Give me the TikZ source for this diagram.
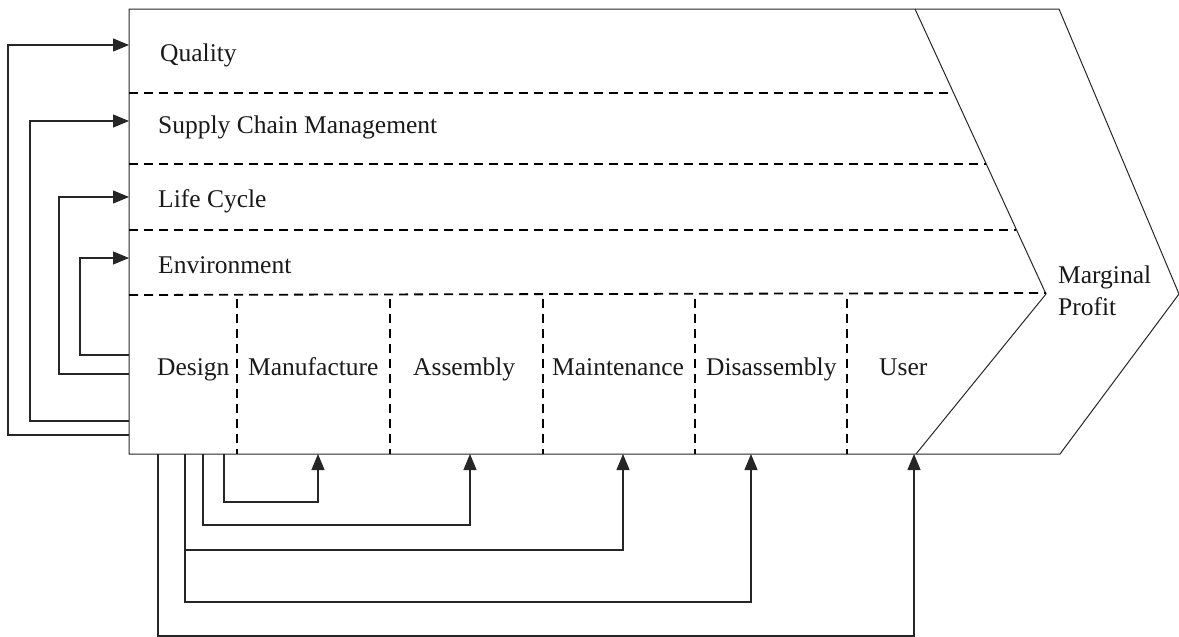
\documentclass[tikz,border=0pt]{standalone}
\usepackage{fontspec}
\setmainfont{Liberation Serif}
\usetikzlibrary{arrows.meta}
\begin{document}
\begin{tikzpicture}[x=1pt,y=-1pt,
  outline/.style={draw=black!85, line width=1pt},
  divider/.style={draw=black, line width=1.8pt, dash pattern=on 9pt off 6pt},
  link/.style={draw=black!85, line width=1.1pt, -{Triangle[length=16pt,width=13pt]}},
  lbl/.style={anchor=base west, inner sep=0pt, font=\fontsize{25.5}{30}\selectfont, text=black!90}]
\useasboundingbox (0,0) rectangle (1179,637);

% value-chain arrow: outer body and inner chevron
\draw[outline] (129,9) -- (1059,9) -- (1179,294) -- (1060,454) -- (129,454) -- cycle;
\draw[outline] (915,9) -- (1046,294) -- (916,454);

% row dividers
\draw[divider] (129,93) -- (953,93);
\draw[divider] (129,164) -- (986,164);
\draw[divider] (129,230) -- (1016,230);
\draw[divider] (129,295) -- (1046,293);

% column dividers
\foreach \x in {237,390,543,695,847}
  \draw[divider] (\x,299) -- (\x,454);

% labels
\node[lbl] (quality) at (160,61) {Quality};
\node[lbl] (scm) at (158,133) {Supply Chain Management};
\node[lbl] (life) at (158,207) {Life Cycle};
\node[lbl] (env) at (158,273) {Environment};
\node[lbl] (design) at (157,375) {Design};
\node[lbl] (manu) at (248,375) {Manufacture};
\node[lbl] (assy) at (413,375) {Assembly};
\node[lbl] (maint) at (552,375) {Maintenance};
\node[lbl] (disassy) at (706,375) {Disassembly};
\node[lbl] (user) at (879,375) {User};
\node[lbl] (margin) at (1058,283) {Marginal};
\node[lbl] (profit) at (1058,315) {Profit};

% ports on the left edge
\coordinate (qIn) at (129,45);   \coordinate (qOut) at (129,435);
\coordinate (sIn) at (129,121);  \coordinate (sOut) at (129,421);
\coordinate (lIn) at (129,197);  \coordinate (lOut) at (129,374);
\coordinate (eIn) at (129,258);  \coordinate (eOut) at (129,355);

% ports on the bottom edge
\coordinate (mOut) at (224,454); \coordinate (mIn) at (318,454);
\coordinate (aOut) at (203,454); \coordinate (aIn) at (470,454);
\coordinate (tOut) at (185,454); \coordinate (tIn) at (623,454);
\coordinate (dOut) at (185,454); \coordinate (dIn) at (751,454);
\coordinate (uOut) at (158,454); \coordinate (uIn) at (914,454);

% feedback from design to the upper rows
\draw[link] (qOut) -- ++(-121,0) |- (qIn);
\draw[link] (sOut) -- ++(-99,0) |- (sIn);
\draw[link] (lOut) -- ++(-70,0) |- (lIn);
\draw[link] (eOut) -- ++(-49,0) |- (eIn);

% feedback from design to the later stages
\draw[link] (mOut) -- ++(0,48) -| (mIn);
\draw[link] (aOut) -- ++(0,71) -| (aIn);
\draw[link] (tOut) -- ++(0,96) -| (tIn);
\draw[link] (dOut) -- ++(0,148) -| (dIn);
\draw[link] (uOut) -- ++(0,182) -| (uIn);
\end{tikzpicture}
\end{document}
